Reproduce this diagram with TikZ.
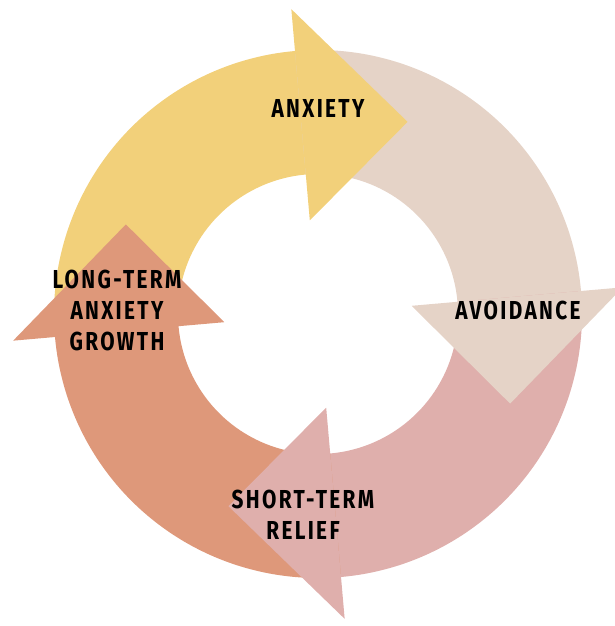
\documentclass[tikz,border=0pt]{standalone}
\usepackage{fontspec}
\setmainfont{Fira Sans}[FakeStretch=0.8,LetterSpace=9]
\definecolor{cy}{HTML}{F2D07A}
\definecolor{cb}{HTML}{E5D3C7}
\definecolor{cp}{HTML}{DFAFAC}
\definecolor{co}{HTML}{DE987A}
\begin{document}
\begin{tikzpicture}[x=1pt,y=1pt,
  lbl/.style={font=\fontsize{26}{31}\selectfont\bfseries, align=center, text=black, inner sep=0pt}]
\useasboundingbox (-318,-312) rectangle (297,314);
\foreach \b/\c in {95/cy,5/cb,-85/cp,185/co}{
  \fill[\c] (\b+90:264) arc[start angle=\b+90,end angle=\b-1,radius=264] -- (\b-1:140) arc[start angle=\b-1,end angle=\b+90,radius=140] -- cycle;
}
\foreach \b/\c in {95/cy,5/cb,-85/cp,185/co}{
  \fill[\c] (\b:94) -- (\b:306) -- (\b-30:212) -- cycle;
}
\node[lbl] (anx) at (0,206) {ANXIETY};
\node[lbl] (avo) at (200,4) {AVOIDANCE};
\node[lbl] (rel) at (-15,-201) {SHORT-TERM\\RELIEF};
\node[lbl] (gro) at (-201,4) {LONG-TERM\\ANXIETY\\GROWTH};
\end{tikzpicture}
\end{document}
